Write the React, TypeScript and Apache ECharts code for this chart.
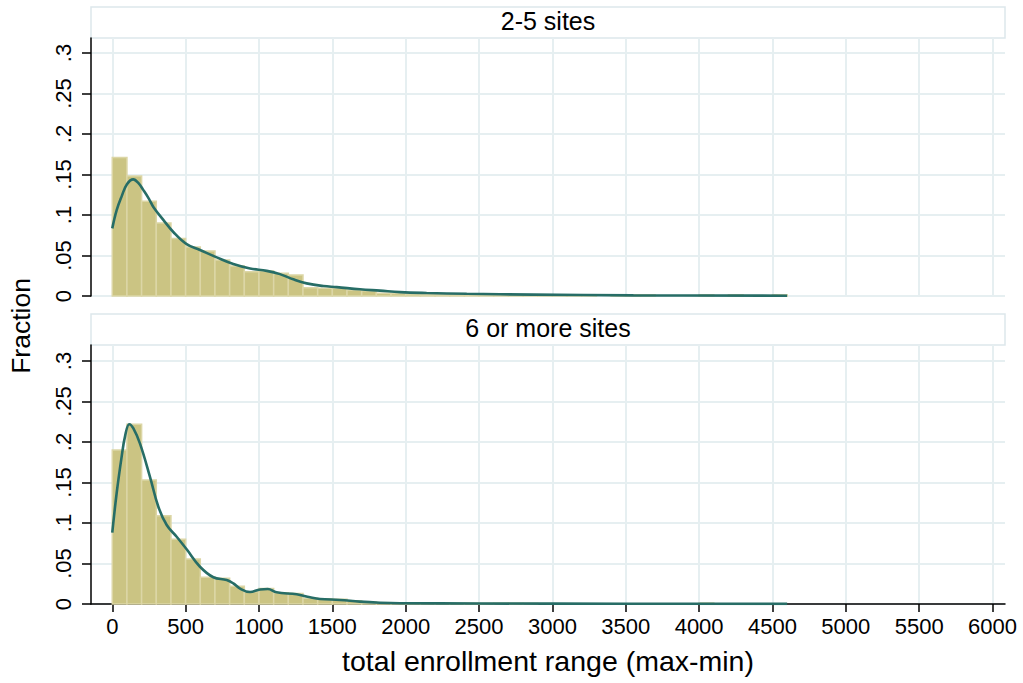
import React, { useEffect, useRef } from 'react';
import * as echarts from 'echarts';

// ---------- data ----------
const binWidth = 100;
const panelTitles = ['2-5 sites', '6 or more sites'];
const xTickValues = [0, 500, 1000, 1500, 2000, 2500, 3000, 3500, 4000, 4500, 5000, 5500, 6000];
const yTickValues = [0, 0.05, 0.1, 0.15, 0.2, 0.25, 0.3];
const xTitle = 'total enrollment range (max-min)';
const yTitle = 'Fraction';

// histogram fractions, bins of width 100 starting at 0
const fracSmall = [
  0.171, 0.148, 0.117, 0.090, 0.071, 0.0605, 0.0556, 0.0444, 0.037, 0.030,
  0.031, 0.028, 0.026, 0.0103, 0.0095, 0.0095, 0.0074, 0.0066, 0.0033, 0.003,
  0.0025, 0.002, 0.0015, 0.002, 0.0015, 0.002, 0.001, 0.0005, 0.0005, 0.0015,
  0.0015, 0.0015, 0.0015, 0, 0.0015, 0.0015, 0.0015, 0, 0, 0,
  0.0015, 0, 0.0015, 0, 0, 0.0015,
];
const fracLarge = [
  0.190, 0.222, 0.153, 0.109, 0.080, 0.0556, 0.033, 0.0317, 0.022, 0.015,
  0.019, 0.014, 0.013, 0.007, 0.0066, 0.006, 0.004, 0.0025, 0.0016, 0.001,
  0.001, 0.0008, 0.001, 0.0008, 0.001, 0.0008, 0.001, 0.0008, 0.0008, 0,
  0, 0, 0, 0, 0, 0, 0, 0, 0, 0,
  0.0012, 0, 0, 0, 0, 0,
];

// kernel density curves [x, density-as-fraction]
const densitySmall: [number, number][] = [
  [0, 0.0835], [30, 0.106], [64, 0.123], [100, 0.138], [143, 0.144], [180, 0.139],
  [211, 0.131], [250, 0.120], [280, 0.110], [348, 0.094], [416, 0.079], [507, 0.064],
  [598, 0.0568], [712, 0.0477], [825, 0.0395], [939, 0.034], [1053, 0.031], [1143, 0.027],
  [1234, 0.0206], [1325, 0.0156], [1439, 0.0123], [1530, 0.011], [1688, 0.0083],
  [1825, 0.0066], [1961, 0.0048], [2143, 0.0037], [2416, 0.0027], [2870, 0.0017],
  [3552, 0.0008], [4600, 0.0004],
];
const densityLarge: [number, number][] = [
  [0, 0.088], [30, 0.137], [64, 0.182], [87, 0.207], [116, 0.222], [143, 0.217],
  [189, 0.198], [257, 0.157], [314, 0.12], [371, 0.0975], [439, 0.083], [507, 0.0675],
  [598, 0.046], [689, 0.033], [780, 0.0296], [825, 0.0255], [871, 0.019], [939, 0.0148],
  [1007, 0.018], [1060, 0.0185], [1120, 0.0144], [1257, 0.012], [1348, 0.0083],
  [1416, 0.0062], [1552, 0.005], [1688, 0.0029], [1825, 0.0016], [1961, 0.001],
  [2500, 0.0006], [3500, 0.0003], [4600, 0.0001],
];

// ---------- style ----------
const FONT = "'Liberation Sans', Arial, Helvetica, sans-serif";
const BAR_FILL = '#cbc483';
const BAR_EDGE = '#dcd6a6';
const LINE_COLOR = '#276d66';
const GRID_COLOR = '#e6eff1';
const STRIP_EDGE = '#dde7eb';

const fmtY = (v: number) => (v === 0 ? '0' : v.toFixed(2).replace(/0+$/, '').replace(/^0/, ''));
const fmtX = (v: number) => String(Math.round(v));

export default function App() {
  const ref = useRef<HTMLDivElement>(null);

  useEffect(() => {
    if (!ref.current) return;
    const chart = echarts.init(ref.current, undefined, { renderer: 'svg' });

    const grids = [
      { left: 91, right: 18, top: 38, height: 258 },
      { left: 91, right: 18, top: 345, height: 259 },
    ];
    const yMax = [258 / 810, 259 / 810];

    const xAxes = [0, 1].map((i) => ({
      type: 'value',
      gridIndex: i,
      min: -145,
      max: 6085,
      axisLine: { show: i === 1, lineStyle: { color: '#000', width: 1.5 } },
      axisTick: {
        show: i === 1,
        customValues: xTickValues,
        length: 8,
        lineStyle: { color: '#000', width: 1.5 },
      },
      axisLabel: {
        show: i === 1,
        customValues: xTickValues,
        fontSize: 22,
        fontFamily: FONT,
        color: '#000',
        margin: 11,
        formatter: fmtX,
      },
      splitLine: { show: true, lineStyle: { color: GRID_COLOR, width: 2 } },
    }));

    const yAxes = [0, 1].map((i) => ({
      type: 'value',
      gridIndex: i,
      min: 0,
      max: yMax[i],
      axisLine: { show: true, onZero: false, lineStyle: { color: '#000', width: 1.5 } },
      axisTick: {
        show: true,
        customValues: yTickValues,
        length: 9,
        lineStyle: { color: '#000', width: 1.5 },
      },
      axisLabel: {
        customValues: yTickValues,
        rotate: 90,
        fontSize: 22,
        fontFamily: FONT,
        color: '#000',
        margin: 17,
        formatter: fmtY,
      },
      splitLine: { show: true, lineStyle: { color: GRID_COLOR, width: 2 } },
    }));

    const barSeries = (frac: number[], idx: number) => ({
      type: 'custom',
      xAxisIndex: idx,
      yAxisIndex: idx,
      encode: { x: [0, 1], y: 2 },
      data: frac
        .map((v, i) => [i * binWidth, (i + 1) * binWidth, v])
        .filter((d) => d[2] > 0),
      renderItem: (_p: any, api: any) => {
        const p0 = api.coord([api.value(0), api.value(2)]);
        const p1 = api.coord([api.value(1), 0]);
        return {
          type: 'rect',
          shape: { x: p0[0], y: p0[1], width: p1[0] - p0[0], height: p1[1] - p0[1] },
          style: { fill: BAR_FILL, stroke: BAR_EDGE, lineWidth: 1.5 },
        };
      },
      silent: true,
      z: 2,
    });

    const lineSeries = (dens: [number, number][], idx: number) => ({
      type: 'line',
      xAxisIndex: idx,
      yAxisIndex: idx,
      data: dens,
      smooth: 0.4,
      showSymbol: false,
      lineStyle: { color: LINE_COLOR, width: 2.6 },
      silent: true,
      z: 3,
    });

    const stripTops = [7, 314];
    const graphic: any[] = [];
    stripTops.forEach((t, i) => {
      graphic.push({
        type: 'rect',
        shape: { x: 91, y: t, width: 914, height: 31 },
        style: { fill: '#fff', stroke: STRIP_EDGE, lineWidth: 1.5 },
        z: 0,
      });
      graphic.push({
        type: 'text',
        x: 548,
        y: t + 14,
        style: {
          text: panelTitles[i],
          fontSize: 25,
          fontFamily: FONT,
          fill: '#000',
          align: 'center',
          verticalAlign: 'middle',
        },
      });
    });
    graphic.push({
      type: 'text',
      x: 548,
      y: 661,
      style: {
        text: xTitle,
        fontSize: 28.5,
        fontFamily: FONT,
        fill: '#000',
        align: 'center',
        verticalAlign: 'middle',
      },
    });
    graphic.push({
      type: 'text',
      x: 21,
      y: 326,
      rotation: Math.PI / 2,
      style: {
        text: yTitle,
        fontSize: 26.5,
        fontFamily: FONT,
        fill: '#000',
        align: 'center',
        verticalAlign: 'middle',
      },
    });

    chart.setOption({
      animation: false,
      backgroundColor: '#fff',
      grid: grids,
      xAxis: xAxes,
      yAxis: yAxes,
      series: [
        barSeries(fracSmall, 0),
        lineSeries(densitySmall, 0),
        barSeries(fracLarge, 1),
        lineSeries(densityLarge, 1),
      ],
      graphic,
    });

    return () => chart.dispose();
  }, []);

  return (
    <div
      ref={ref}
      style={{ position: 'fixed', left: 0, top: 0, width: 1023, height: 683, background: '#fff' }}
    />
  );
}
